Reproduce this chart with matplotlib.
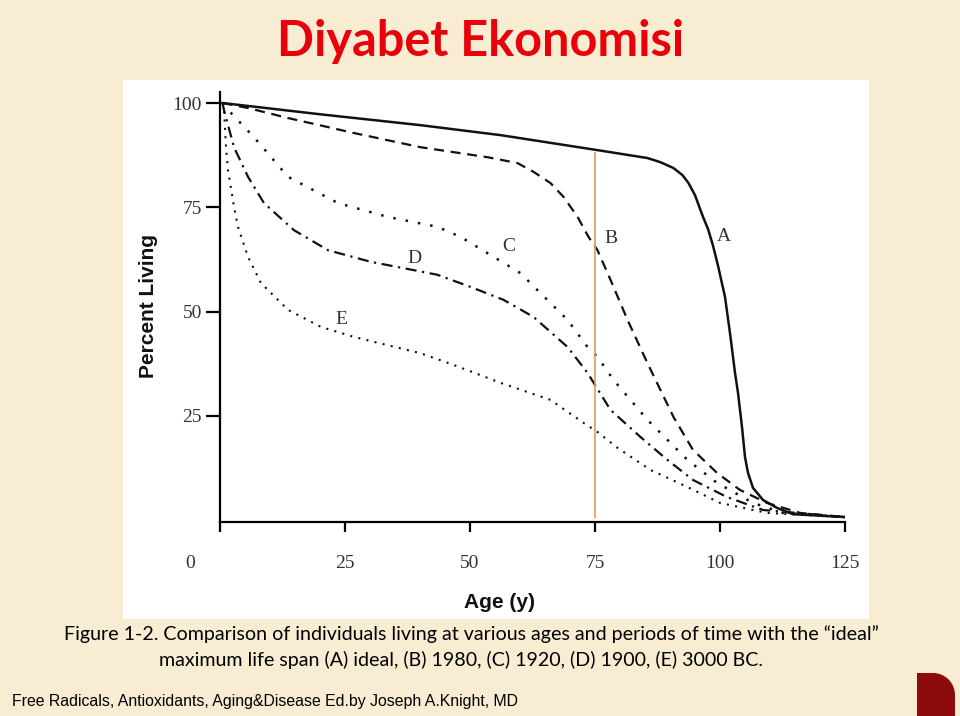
import matplotlib
matplotlib.use("Agg")
import matplotlib.pyplot as plt
import matplotlib.transforms as mtransforms
from matplotlib.patches import Rectangle, Wedge

# survival curves (age in years, percent living)
age_a = [0.5, 20, 40, 56.1, 75.5, 85.5, 88.1, 90.7, 92.5, 93.7, 95.0, 96.6,
         97.6, 98.6, 99.6, 101.0, 102.0, 103.0, 103.6, 104.4, 105.0, 105.6,
         106.6, 108.6, 111.4, 114.6, 125]
pct_a = [100, 97.3, 94.7, 92.3, 88.7, 86.8, 85.8, 84.4, 82.7, 80.8, 77.9, 72.7,
         69.8, 65.8, 61.0, 53.5, 44.8, 35.3, 30.5, 22.3, 15.1, 11.3,
         7.7, 4.8, 2.9, 1.4, 0.7]

age_b = [0.5, 5.6, 13.6, 26.8, 40.1, 53.5, 59.5, 62.7, 66.1, 68.7, 71.5,
         73.7, 75.5, 78.1, 81.5, 85.5, 90.7, 94.6, 99.4, 104.0, 109.4, 116.0, 125]
pct_b = [100, 98.8, 96.4, 92.8, 89.4, 87.0, 85.6, 83.5, 80.8, 77.5, 72.7,
         67.9, 64.7, 57.6, 48.0, 37.6, 24.7, 16.8, 11.3, 7.2, 4.1, 1.7, 0.7]

age_c = [0.5, 2.2, 6.8, 13.6, 23.6, 33.5, 43.5, 48.1, 53.5, 60.1, 64.1, 69.5,
         73.5, 75.5, 78.7, 85.5, 93.5, 99.4, 106.6, 112.6, 125]
pct_c = [100, 97.6, 91.8, 82.3, 76.0, 72.7, 70.3, 67.9, 64.0, 59.2, 54.4, 48.0,
         41.5, 39.1, 33.6, 24.0, 14.4, 8.9, 4.1, 1.7, 0.7]

age_d = [0.5, 0.8, 2.8, 5.6, 8.8, 14.8, 21.6, 30.2, 36.7, 43.5, 50.1, 56.7,
         62.7, 69.5, 73.5, 78.1, 84.1, 89.5, 94.6, 101.4, 108.6, 125]
pct_d = [100, 98.3, 89.4, 82.3, 76.0, 69.5, 64.7, 61.9, 60.4, 58.8, 55.9, 52.8,
         48.7, 41.5, 35.3, 26.4, 19.9, 14.4, 9.6, 5.5, 2.4, 0.7]

age_e = [0.5, 0.8, 1.2, 1.6, 2.8, 3.6, 5.6, 8.2, 13.6, 20.2, 26.8, 40.1, 46.7,
         56.1, 66.1, 72.7, 75.5, 79.5, 86.1, 93.5, 100.0, 109.4, 125]
pct_e = [100, 98.3, 89.4, 83.9, 75.1, 70.3, 63.1, 56.8, 50.4, 46.3, 43.9, 40.0,
         37.2, 32.9, 28.8, 23.3, 21.1, 17.3, 12.0, 7.9, 4.1, 1.7, 0.7]

curve_names = ["A", "B", "C", "D", "E"]
x_ticks = [0, 25, 50, 75, 100, 125]
y_ticks = [25, 50, 75, 100]
marker_age = 75
marker_top = 88.2

W, H = 960, 716


def px(x, y):
    return x / W, 1 - y / H


fig = plt.figure(figsize=(9.6, 7.16), dpi=100)
fig.patch.set_facecolor("#F8ECD2")

# background layer in pixel coords: white panel of the scan + corner logo
bg = fig.add_axes([0, 0, 1, 1], zorder=0)
bg.set_xlim(0, W)
bg.set_ylim(H, 0)
bg.axis("off")
bg.add_patch(Rectangle((123, 80), 869 - 123, 619 - 80, facecolor="white",
                       edgecolor="none"))
logo = "#8E0B0B"
bg.add_patch(Rectangle((917, 673), 16, 43, facecolor=logo, edgecolor="none"))
bg.add_patch(Rectangle((933, 695), 22, 21, facecolor=logo, edgecolor="none"))
bg.add_patch(Wedge((933, 695), 22, 270, 360, facecolor=logo, edgecolor="none"))

l, b = px(220, 522)
ax = fig.add_axes([l, b, 625 / W, 430 / H], zorder=2)
ax.patch.set_alpha(0)

ink = "#111111"
ax.plot(age_a, pct_a, color=ink, lw=1.8, ls="-")
ax.plot(age_b, pct_b, color=ink, lw=1.6, ls=(0, (4.5, 3)))
ax.plot(age_c, pct_c, color=ink, lw=1.8, ls=(0, (1, 4)))
ax.plot(age_d, pct_d, color=ink, lw=1.6, ls=(0, (5, 2.5, 1, 2.5)))
ax.plot(age_e, pct_e, color=ink, lw=1.5, ls=(0, (1, 3)))
ax.vlines(marker_age, 0.5, marker_top, color="#E39A58", lw=1.2)

label_pos = {"A": (100.8, 68.1), "B": (78.1, 67.6), "C": (57.7, 65.7),
             "D": (38.9, 62.8), "E": (24.2, 48.0)}
for name in curve_names:
    ax.text(*label_pos[name], name, family="Liberation Serif", fontsize=14,
            color="#333333", ha="center", va="center")

ax.set_xlim(0, 125)
ax.set_ylim(-0.48, 102.64)
ax.spines["top"].set_visible(False)
ax.spines["right"].set_visible(False)
ax.spines["left"].set_linewidth(1.6)
ax.spines["bottom"].set_linewidth(1.6)
ax.set_xticks(x_ticks)
ax.set_xticklabels([str(v) for v in x_ticks])
ax.set_yticks(y_ticks)
ax.set_yticklabels([str(v) for v in y_ticks])
ax.tick_params(axis="x", direction="out", length=7.5, width=1.6, pad=16,
               labelsize=14, labelcolor="#333333")
ax.tick_params(axis="y", direction="out", length=10, width=1.6, pad=3,
               labelsize=14, labelcolor="#333333")
for lab in ax.get_xticklabels() + ax.get_yticklabels():
    lab.set_family("Liberation Serif")
# the "0" sits left of the origin in the scan
zero = ax.get_xticklabels()[0]
zero.set_transform(zero.get_transform() +
                   mtransforms.ScaledTranslation(-0.30, 0, fig.dpi_scale_trans))

fig.text(*px(148, 306), "Percent Living", rotation=90, ha="center", va="center",
         family="Liberation Sans", weight="bold", fontsize=15, color=ink)
fig.text(*px(499, 603), "Age (y)", ha="center", va="center",
         family="Liberation Sans", weight="bold", fontsize=15, color=ink)

fig.text(*px(481, 56), "Diyabet Ekonomisi", ha="center", va="baseline",
         family="Lato", weight="bold", fontsize=35, color="#E8000B")
fig.text(*px(471, 640), "Figure 1-2. Comparison of individuals living at various "
         "ages and periods of time with the \u201cideal\u201d", ha="center",
         va="baseline", family="Lato", fontsize=14.1, color="black")
fig.text(*px(461, 666), "maximum life span (A) ideal, (B) 1980, (C) 1920, (D) 1900, "
         "(E) 3000 BC.", ha="center", va="baseline", family="Lato",
         fontsize=14.1, color="black")
fig.text(*px(12, 706), "Free Radicals, Antioxidants, Aging&Disease Ed.by Joseph "
         "A.Knight, MD", ha="left", va="baseline", family="Liberation Sans",
         fontsize=11.4, color="black")

fig.savefig("out.png", dpi=100, facecolor=fig.get_facecolor())
